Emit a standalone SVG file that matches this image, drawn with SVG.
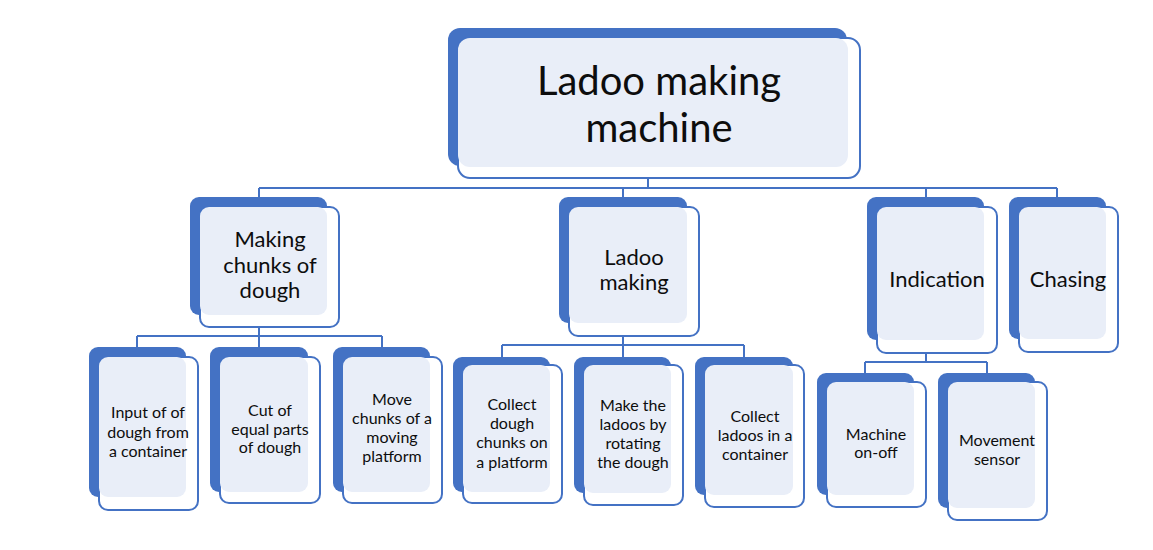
<svg xmlns="http://www.w3.org/2000/svg" width="1153" height="550" viewBox="0 0 1153 550">
<style>
.back{fill:#4472C4}
.front{fill:#FFFFFF;stroke:#4472C4;stroke-width:2}
.fill{fill:#E9EEF8}
.t{font-family:Lato,"Liberation Sans",sans-serif;fill:#0D0D0D;text-anchor:middle}
.t1{font-size:40px}
.t2{font-size:22px}
.t3{font-size:16px}
.c{fill:none;stroke:#4472C4;stroke-width:2}
</style>
<rect width="1153" height="550" fill="#FFFFFF"/>
<g id="connectors">
<path class="c" d="M648 178V188M259 188H1057M259 188V197M623 188V197M926 188V197M1057 188V197"/>
<path class="c" d="M259 327V336M137 336H382M137 336V347M259 336V347M382 336V347"/>
<path class="c" d="M623 336V345M502 345H744M502 345V357M623 345V357M744 345V357"/>
<path class="c" d="M926 353V362M865 362H987M865 362V373M987 362V373"/>
</g>
<g id="n-main">
<rect class="back" x="448" y="28" width="399" height="138" rx="12"/>
<rect class="front" x="458" y="38" width="402" height="140" rx="12"/>
<rect class="fill" x="458" y="38" width="390" height="129" rx="12"/>
<text class="t t1" x="659" y="95">Ladoo making</text>
<text class="t t1" x="659" y="142">machine</text>
</g>
<g id="n-chunks">
<rect class="back" x="190" y="197" width="137" height="118" rx="9"/>
<rect class="front" x="200" y="207" width="139" height="120" rx="9"/>
<rect class="fill" x="200" y="207" width="127" height="108" rx="9"/>
<text class="t t2" x="270" y="247">Making</text>
<text class="t t2" x="270" y="273">chunks of</text>
<text class="t t2" x="270" y="298">dough</text>
</g>
<g id="n-ladoo">
<rect class="back" x="559" y="197" width="128" height="126" rx="9"/>
<rect class="front" x="569" y="207" width="130" height="129" rx="9"/>
<rect class="fill" x="569" y="207" width="118" height="116" rx="9"/>
<text class="t t2" x="634" y="265">Ladoo</text>
<text class="t t2" x="634" y="290">making</text>
</g>
<g id="n-indication">
<rect class="back" x="867" y="197" width="117" height="143" rx="9"/>
<rect class="front" x="877" y="207" width="120" height="146" rx="9"/>
<rect class="fill" x="877" y="207" width="107" height="133" rx="9"/>
<text class="t t2" x="937" y="287">Indication</text>
</g>
<g id="n-chasing">
<rect class="back" x="1009" y="197" width="97" height="142" rx="9"/>
<rect class="front" x="1019" y="207" width="99" height="145" rx="9"/>
<rect class="fill" x="1019" y="207" width="87" height="132" rx="9"/>
<text class="t t2" x="1068" y="287">Chasing</text>
</g>
<g id="n-input">
<rect class="back" x="89" y="347" width="97" height="150" rx="9"/>
<rect class="front" x="99" y="357" width="99" height="153" rx="9"/>
<rect class="fill" x="99" y="357" width="87" height="140" rx="9"/>
<text class="t t3" x="148" y="418">Input of of</text>
<text class="t t3" x="148" y="438">dough from</text>
<text class="t t3" x="148" y="457">a container</text>
</g>
<g id="n-cut">
<rect class="back" x="210" y="347" width="98" height="145" rx="9"/>
<rect class="front" x="220" y="357" width="100" height="146" rx="9"/>
<rect class="fill" x="220" y="357" width="88" height="135" rx="9"/>
<text class="t t3" x="270" y="416">Cut of</text>
<text class="t t3" x="270" y="435">equal parts</text>
<text class="t t3" x="270" y="453">of dough</text>
</g>
<g id="n-move">
<rect class="back" x="333" y="347" width="97" height="145" rx="9"/>
<rect class="front" x="343" y="357" width="99" height="146" rx="9"/>
<rect class="fill" x="343" y="357" width="87" height="135" rx="9"/>
<text class="t t3" x="392" y="405">Move</text>
<text class="t t3" x="392" y="424">chunks of a</text>
<text class="t t3" x="392" y="443">moving</text>
<text class="t t3" x="392" y="462">platform</text>
</g>
<g id="n-collect">
<rect class="back" x="453" y="357" width="97" height="135" rx="9"/>
<rect class="front" x="463" y="365" width="99" height="138" rx="9"/>
<rect class="fill" x="463" y="365" width="87" height="127" rx="9"/>
<text class="t t3" x="512" y="410">Collect</text>
<text class="t t3" x="512" y="429">dough</text>
<text class="t t3" x="512" y="448">chunks on</text>
<text class="t t3" x="512" y="468">a platform</text>
</g>
<g id="n-make">
<rect class="back" x="574" y="357" width="97" height="136" rx="9"/>
<rect class="front" x="584" y="365" width="99" height="140" rx="9"/>
<rect class="fill" x="584" y="365" width="87" height="128" rx="9"/>
<text class="t t3" x="633" y="411">Make the</text>
<text class="t t3" x="633" y="430">ladoos by</text>
<text class="t t3" x="633" y="449">rotating</text>
<text class="t t3" x="633" y="468">the dough</text>
</g>
<g id="n-collect2">
<rect class="back" x="695" y="357" width="98" height="138" rx="9"/>
<rect class="front" x="705" y="365" width="99" height="142" rx="9"/>
<rect class="fill" x="705" y="365" width="88" height="130" rx="9"/>
<text class="t t3" x="755" y="422">Collect</text>
<text class="t t3" x="755" y="441">ladoos in a</text>
<text class="t t3" x="755" y="460">container</text>
</g>
<g id="n-onoff">
<rect class="back" x="817" y="373" width="97" height="122" rx="9"/>
<rect class="front" x="827" y="382" width="99" height="125" rx="9"/>
<rect class="fill" x="827" y="382" width="87" height="113" rx="9"/>
<text class="t t3" x="876" y="440">Machine</text>
<text class="t t3" x="876" y="458">on-off</text>
</g>
<g id="n-sensor">
<rect class="back" x="938" y="373" width="97" height="135" rx="9"/>
<rect class="front" x="948" y="382" width="99" height="138" rx="9"/>
<rect class="fill" x="948" y="382" width="87" height="126" rx="9"/>
<text class="t t3" x="997" y="446">Movement</text>
<text class="t t3" x="997" y="465">sensor</text>
</g>
</svg>
